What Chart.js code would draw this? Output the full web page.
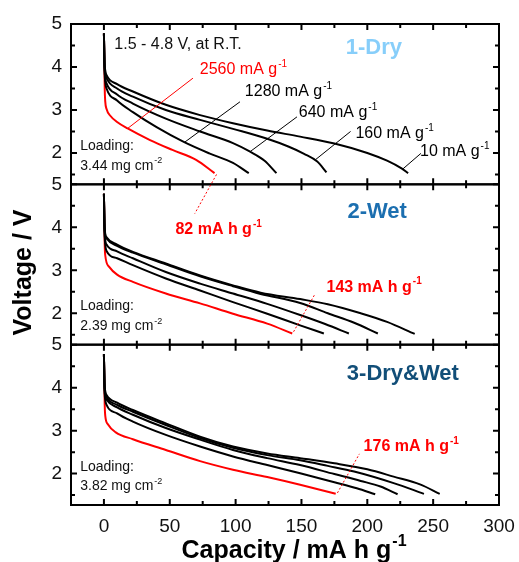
<!DOCTYPE html>
<html>
<head>
<meta charset="utf-8">
<script src="https://cdn.jsdelivr.net/npm/chart.js@4.4.1/dist/chart.umd.min.js"></script>
<style>
  html, body { margin: 0; padding: 0; background: #fff; }
</style>
</head>
<body>
<canvas id="rateChart" width="519" height="562"></canvas>
<script>
const FONT = '"Liberation Sans", Arial, sans-serif';

// capacity (mA h g-1), voltage (V) pairs
// panel 1: dry electrode, rates 10 / 160 / 640 / 1280 / 2560 mA g-1
const dry10 = [[0,4.78],[0.4,4.15],[1,3.92],[2,3.81],[10,3.6],[22,3.43],[47,3.12],[73,2.88],[98,2.69],[124,2.52],[149,2.38],[175,2.22],[200,2.0],[215,1.82],[226,1.64],[231,1.53]];
const dry160 = [[0,4.78],[0.4,4.1],[1,3.85],[2,3.74],[10,3.5],[22,3.31],[47,3.0],[73,2.77],[98,2.56],[124,2.33],[140,2.15],[152,1.98],[162,1.8],[169,1.55]];
const dry640 = [[0,4.78],[0.4,4.05],[1,3.75],[2,3.62],[10,3.36],[22,3.15],[47,2.8],[73,2.5],[98,2.23],[111,2.03],[122,1.82],[131,1.53]];
const dry1280 = [[0,4.78],[0.4,4.0],[1,3.65],[2,3.5],[10,3.22],[22,2.95],[40,2.6],[61,2.25],[80,1.99],[98,1.77],[110,1.53]];
const dry2560 = [[0,4.78],[0.3,4.2],[0.6,3.5],[1,3.2],[2,3.02],[5,2.86],[10,2.72],[18,2.57],[35,2.3],[52,2.07],[70,1.84],[84,1.53]];

// panel 2: wet electrode
const wet10 = [[0,4.78],[0.4,4.1],[1,3.85],[2,3.77],[10,3.6],[22,3.43],[47,3.16],[73,2.88],[98,2.65],[119,2.48],[149,2.33],[170,2.21],[195,2.0],[215,1.8],[236,1.52]];
const wet160 = [[0,4.78],[0.4,4.08],[1,3.82],[2,3.74],[10,3.57],[22,3.41],[47,3.14],[73,2.86],[98,2.63],[119,2.45],[149,2.24],[170,2.0],[190,1.78],[208,1.53]];
const wet640 = [[0,4.78],[0.4,4.0],[1,3.7],[2,3.6],[10,3.44],[22,3.28],[47,2.96],[73,2.69],[98,2.46],[124,2.22],[149,1.96],[168,1.75],[186,1.53]];
const wet1280 = [[0,4.78],[0.4,3.95],[1,3.6],[2,3.45],[10,3.28],[22,3.12],[47,2.81],[73,2.53],[98,2.26],[124,1.99],[149,1.72],[167,1.53]];
const wet2560 = [[0,4.78],[0.3,4.2],[0.6,3.6],[1,3.35],[4,3.08],[10,2.9],[22,2.73],[47,2.46],[73,2.23],[98,1.99],[124,1.76],[143,1.53]];

// panel 3: dry & wet electrode
const dw10 = [[0,4.78],[0.4,4.15],[1,3.92],[2,3.83],[10,3.65],[22,3.48],[47,3.17],[73,2.86],[98,2.63],[124,2.47],[149,2.36],[175,2.24],[200,2.1],[220,1.93],[240,1.75],[255,1.53]];
const dw160 = [[0,4.78],[0.4,4.1],[1,3.88],[2,3.78],[10,3.6],[22,3.44],[47,3.13],[73,2.83],[98,2.6],[124,2.43],[149,2.31],[170,2.18],[190,2.05],[220,1.78],[243,1.53]];
const dw640 = [[0,4.78],[0.4,4.05],[1,3.8],[2,3.72],[10,3.54],[22,3.37],[47,3.06],[73,2.79],[98,2.55],[124,2.36],[149,2.2],[175,1.99],[195,1.83],[210,1.7],[223,1.52]];
const dw1280 = [[0,4.78],[0.4,4.0],[1,3.72],[2,3.6],[10,3.4],[22,3.21],[47,2.9],[73,2.63],[98,2.4],[124,2.2],[149,2.01],[175,1.8],[192,1.66],[206,1.52]];
const dw2560 = [[0,4.78],[0.3,4.2],[0.6,3.6],[1,3.35],[3,3.15],[9,2.96],[22,2.8],[47,2.55],[73,2.29],[98,2.09],[124,1.92],[149,1.74],[176,1.53]];

const xTicks = [0, 50, 100, 150, 200, 250, 300];
const xMinor = [25, 75, 125, 175, 225, 275];
const yTicks = [2, 3, 4, 5];
const yMinor = [1.5, 2.5, 3.5, 4.5];

const rateLabels = ["2560 mA g", "1280 mA g", "640 mA g", "160 mA g", "10 mA g"];
const panelNames = ["1-Dry", "2-Wet", "3-Dry&Wet"];
const loadings = ["3.44 mg cm", "2.39 mg cm", "3.82 mg cm"];
const highRateCaps = ["82 mA h g", "143 mA h g", "176 mA h g"];

function toPoints(arr) {
  return arr.map(function (p) { return { x: p[0], y: p[1] }; });
}

function curve(arr, color, axis) {
  return {
    data: toPoints(arr),
    borderColor: color,
    borderWidth: 2,
    pointRadius: 0,
    fill: false,
    yAxisID: axis,
    cubicInterpolationMode: "monotone"
  };
}

function yAxis() {
  return {
    type: "linear",
    position: "left",
    stack: "panels",
    stackWeight: 1,
    min: 1.27,
    max: 5,
    grid: { display: false, drawTicks: false },
    border: { display: false },
    afterBuildTicks: function (s) { s.ticks = yTicks.map(function (v) { return { value: v }; }); },
    afterFit: function (s) { s.width = 71; s.paddingTop = 0; s.paddingBottom = 0; },
    ticks: { font: { family: FONT, size: 19 }, color: "#111", padding: 9 }
  };
}

function richText(ctx, x, y, base, sup, size, bold, color, align) {
  const w = bold ? "bold " : "";
  const f = w + size + "px " + FONT;
  const fs = w + Math.round(size * 0.64) + "px " + FONT;
  ctx.font = f;
  const w1 = ctx.measureText(base).width;
  ctx.font = fs;
  const w2 = sup ? ctx.measureText(sup).width + 1 : 0;
  let x0 = x;
  if (align === "center") x0 = x - (w1 + w2) / 2;
  ctx.fillStyle = color;
  ctx.textAlign = "left";
  ctx.textBaseline = "middle";
  ctx.font = f;
  ctx.fillText(base, x0, y);
  if (sup) {
    ctx.font = fs;
    ctx.fillText(sup, x0 + w1 + 1, y - size * 0.36);
  }
}

const framePlugin = {
  id: "frameAndNotes",
  afterDatasetsDraw: function (chart) {
    const ctx = chart.ctx;
    const xs = chart.scales.x;
    const ids = ["y1", "y2", "y3"];
    const ca = chart.chartArea;
    ctx.save();

    // frames and inward ticks
    ctx.strokeStyle = "#000";
    ctx.lineWidth = 2;
    ids.forEach(function (id) {
      const ys = chart.scales[id];
      const top = ys.top, bottom = ys.bottom;
      ctx.strokeRect(ca.left, top, ca.right - ca.left, bottom - top);
      ctx.beginPath();
      xTicks.concat(xMinor).forEach(function (v) {
        const len = xTicks.indexOf(v) >= 0 ? 6 : 4;
        const px = xs.getPixelForValue(v);
        ctx.moveTo(px, top); ctx.lineTo(px, top + len);
        ctx.moveTo(px, bottom); ctx.lineTo(px, bottom - len);
      });
      yTicks.concat(yMinor).forEach(function (v) {
        const len = yTicks.indexOf(v) >= 0 ? 6 : 4;
        const py = ys.getPixelForValue(v);
        ctx.moveTo(ca.left, py); ctx.lineTo(ca.left + len, py);
        ctx.moveTo(ca.right, py); ctx.lineTo(ca.right - len, py);
      });
      ctx.stroke();
    });

    const X = function (v) { return xs.getPixelForValue(v); };
    const Y = function (id, v) { return chart.scales[id].getPixelForValue(v); };

    function seg(x1, id1, v1, x2, id2, v2, color, dash) {
      ctx.beginPath();
      ctx.strokeStyle = color;
      ctx.lineWidth = 1;
      ctx.setLineDash(dash || []);
      ctx.moveTo(X(x1), Y(id1, v1));
      ctx.lineTo(X(x2), Y(id2, v2));
      ctx.stroke();
      ctx.setLineDash([]);
    }

    // panel 1 annotations
    richText(ctx, X(7.9), Y("y1", 4.53), "1.5 - 4.8 V, at R.T.", "", 16, false, "#111", "left");
    richText(ctx, X(205), Y("y1", 4.44), panelNames[0], "", 22, true, "#87cefa", "center");
    const ratePos = [[72.8, 3.93], [107, 3.42], [148, 2.93], [191, 2.45], [240, 2.03]];
    const leaders = [[18, 2.57, 67.6, 3.74], [61.3, 2.25, 103.3, 3.19], [111, 2.03, 146.6, 2.84], [160.5, 1.84, 187.3, 2.5], [226.7, 1.62, 240.7, 1.99]];
    rateLabels.forEach(function (t, i) {
      const col = i === 0 ? "#ff0000" : "#000";
      richText(ctx, X(ratePos[i][0]), Y("y1", ratePos[i][1]), t, "-1", 16, false, col, "left");
      const l = leaders[i];
      seg(l[0], "y1", l[1], l[2], "y1", l[3], col);
    });

    // loadings
    ids.forEach(function (id, i) {
      richText(ctx, X(-18), Y(id, 2.16), "Loading:", "", 14, false, "#111", "left");
      richText(ctx, X(-18), Y(id, 1.7), loadings[i], "-2", 14, false, "#111", "left");
    });

    // panel 2 / 3 names
    richText(ctx, X(207.5), Y("y2", 4.35), panelNames[1], "", 22, true, "#1c6fb0", "center");
    richText(ctx, X(227), Y("y3", 4.33), panelNames[2], "", 22, true, "#114e78", "center");

    // capacities at 2560 mA g-1
    seg(85.5, "y1", 1.5, 69, "y2", 4.32, "#ff0000", [2, 2]);
    richText(ctx, X(54.3), Y("y2", 3.94), highRateCaps[0], "-1", 16, true, "#ff0000", "left");
    seg(144, "y2", 1.57, 160.5, "y2", 2.46, "#ff0000", [2, 2]);
    richText(ctx, X(169), Y("y2", 2.6), highRateCaps[1], "-1", 16, true, "#ff0000", "left");
    seg(177.3, "y3", 1.55, 194, "y3", 2.46, "#ff0000", [2, 2]);
    richText(ctx, X(197.2), Y("y3", 2.62), highRateCaps[2], "-1", 16, true, "#ff0000", "left");

    // axis titles
    ctx.font = "bold 25px " + FONT;
    const tw = ctx.measureText("Capacity / mA h g").width;
    ctx.font = "bold 16px " + FONT;
    const sw = ctx.measureText("-1").width;
    const tx = X(144) - (tw + sw) / 2;
    ctx.fillStyle = "#000";
    ctx.textAlign = "left";
    ctx.textBaseline = "alphabetic";
    ctx.font = "bold 25px " + FONT;
    ctx.fillText("Capacity / mA h g", tx, ca.bottom + 53);
    ctx.font = "bold 16px " + FONT;
    ctx.fillText("-1", tx + tw + 1, ca.bottom + 41);

    const mid = chart.scales.y2;
    ctx.translate(ca.left - 40, (mid.top + mid.bottom) / 2 + 8);
    ctx.rotate(-Math.PI / 2);
    ctx.font = "bold 25px " + FONT;
    ctx.textAlign = "center";
    ctx.fillText("Voltage / V", 0, 0);

    ctx.restore();
  }
};

const black = "#000000";
const red = "#ff0000";

// stacked left axes are laid out bottom-up in definition order, so y3 comes first
new Chart(document.getElementById("rateChart"), {
  type: "scatter",
  data: {
    datasets: [
      curve(dry10, black, "y1"), curve(dry160, black, "y1"), curve(dry640, black, "y1"), curve(dry1280, black, "y1"), curve(dry2560, red, "y1"),
      curve(wet10, black, "y2"), curve(wet160, black, "y2"), curve(wet640, black, "y2"), curve(wet1280, black, "y2"), curve(wet2560, red, "y2"),
      curve(dw10, black, "y3"), curve(dw160, black, "y3"), curve(dw640, black, "y3"), curve(dw1280, black, "y3"), curve(dw2560, red, "y3")
    ]
  },
  options: {
    responsive: false,
    animation: false,
    showLine: true,
    layout: { padding: { top: 24, right: 20, left: 0, bottom: 0 } },
    plugins: { legend: { display: false }, tooltip: { enabled: false } },
    scales: {
      x: {
        type: "linear",
        min: -25,
        max: 300,
        grid: { display: false, drawTicks: false },
        border: { display: false },
        afterBuildTicks: function (s) { s.ticks = xTicks.map(function (v) { return { value: v }; }); },
        afterFit: function (s) { s.height = 57; s.paddingLeft = 0; s.paddingRight = 0; },
        ticks: { font: { family: FONT, size: 19 }, color: "#111", padding: 10, maxRotation: 0 }
      },
      y3: yAxis(),
      y2: yAxis(),
      y1: yAxis()
    }
  },
  plugins: [framePlugin]
});
</script>
</body>
</html>
